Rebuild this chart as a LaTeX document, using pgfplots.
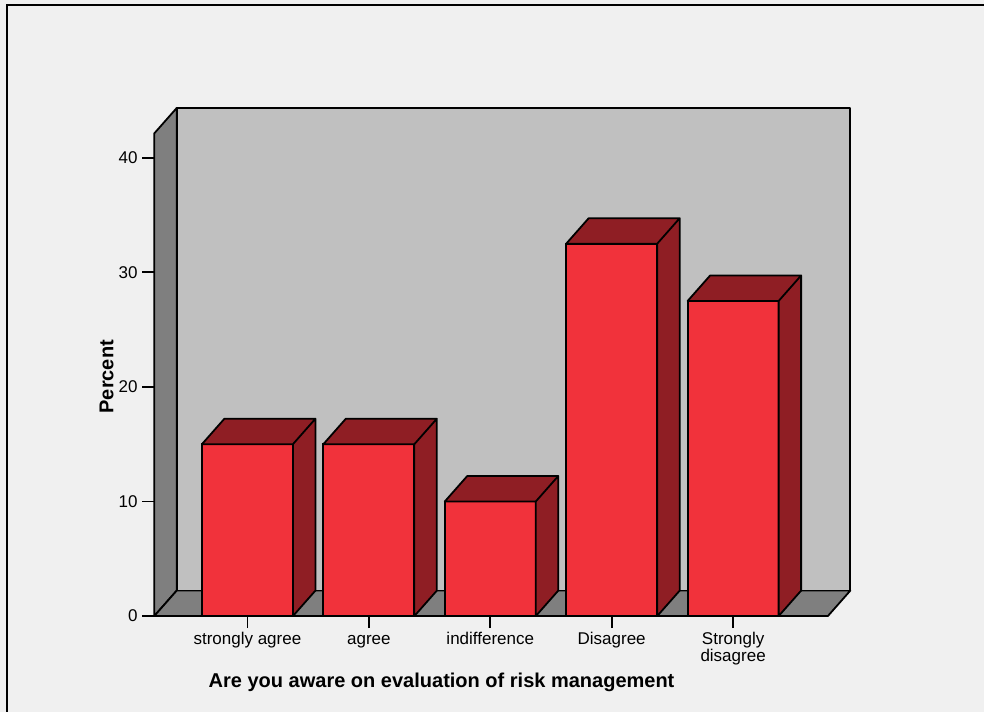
\documentclass[border=0pt]{standalone}
\usepackage{pgfplots}
\pgfplotsset{compat=1.18}
\usepackage{pgfplotstable}
\usepackage{fontspec}
\setmainfont{Liberation Sans}

\definecolor{pagebg}{HTML}{F0F0F0}
\definecolor{backwall}{HTML}{C0C0C0}
\definecolor{sidewall}{HTML}{7F7F7F}
\definecolor{barfront}{HTML}{F1323B}
\definecolor{barshade}{HTML}{8F1E24}

% share of answers (percent)
\pgfplotstableread{
idx pct
0 15
1 15
2 10
3 32.5
4 27.5
}\awaredata

% geometry (pt)
\def\xlo{-0.7675}
\def\xhi{4.78}
\def\yhi{42.12}
\def\yunit{8.5935}
\def\halfbar{34.125}
\def\depx{16.875}
\def\depy{19.125}
\def\edgew{1.35pt}

% top and right-hand faces of a 3-D bar, hung from the bar's top point
\pgfdeclareplotmark{prismcap}{%
  \pgfmathsetmacro\prismh{\barval*\yunit}%
  \pgfpathmoveto{\pgfpoint{-\halfbar pt}{0pt}}%
  \pgfpathlineto{\pgfpoint{\halfbar pt}{0pt}}%
  \pgfpathlineto{\pgfpoint{\halfbar pt+\depx pt}{\depy pt}}%
  \pgfpathlineto{\pgfpoint{-\halfbar pt+\depx pt}{\depy pt}}%
  \pgfpathclose
  \pgfpathmoveto{\pgfpoint{\halfbar pt}{0pt}}%
  \pgfpathlineto{\pgfpoint{\halfbar pt+\depx pt}{\depy pt}}%
  \pgfpathlineto{\pgfpoint{\halfbar pt+\depx pt}{\depy pt-\prismh pt}}%
  \pgfpathlineto{\pgfpoint{\halfbar pt}{-\prismh pt}}%
  \pgfpathclose
  \pgfusepathqfillstroke
}

\begin{document}
\begin{tikzpicture}[x=0.75pt,y=0.75pt]
\fill[pagebg] (0,0) rectangle (984,712);
\useasboundingbox (0,0) rectangle (984,712);
\draw[line width=1.5pt] (7,0) -- (7,707) -- (984,707);
\begin{axis}[
  at={(127,83.7)}, anchor=south west,
  x=91.07pt, y=8.5935pt,
  xmin=\xlo, xmax=\xhi, ymin=0, ymax=\yhi,
  clip=false,
  axis line style={draw=none},
  tick pos=left, tick align=outside,
  major tick length=9pt,
  tick style={black, line width=\edgew},
  xtick={0,...,4},
  xticklabels={strongly agree, agree, indifference, Disagree,
    {\begin{tabular}[t]{@{}c@{}}Strongly\\disagree\end{tabular}}},
  ytick={0,10,20,30,40},
  ticklabel style={font=\fontsize{12.75}{11.6}\selectfont},
  xticklabel style={anchor=base, yshift=-12pt},
  /pgf/number format/assume math mode=true,
  xlabel={Are you aware on evaluation of risk management},
  ylabel={Percent},
  label style={font=\bfseries\fontsize{15}{18}\selectfont},
  xlabel style={at={(axis description cs:0.4266,0)}, anchor=base, yshift=-53.8pt},
  ylabel style={at={(axis description cs:-0.0608,0.496)}, anchor=base},
]
% left wall, floor and back wall
\filldraw[fill=sidewall, line width=\edgew, line join=round]
  (axis cs:\xlo,0) -- (axis cs:\xlo,\yhi)
  -- ([shift={(\depx pt,\depy pt)}]axis cs:\xlo,\yhi)
  -- ([shift={(\depx pt,\depy pt)}]axis cs:\xlo,0) -- cycle;
\filldraw[fill=sidewall, line width=\edgew, line join=round]
  (axis cs:\xlo,0) -- (axis cs:\xhi,0)
  -- ([shift={(\depx pt,\depy pt)}]axis cs:\xhi,0)
  -- ([shift={(\depx pt,\depy pt)}]axis cs:\xlo,0) -- cycle;
\filldraw[fill=backwall, line width=\edgew, line join=round]
  ([shift={(\depx pt,\depy pt)}]axis cs:\xlo,0)
  rectangle ([shift={(\depx pt,\depy pt)}]axis cs:\xhi,\yhi);
% front faces
\addplot[ybar, bar width=68.25pt, fill=barfront, draw=black, line width=\edgew]
  table[x=idx, y=pct] {\awaredata};
% tops and sides
\addplot[only marks, mark=prismcap,
  mark options={fill=barshade, draw=black, line width=\edgew, line join=round},
  visualization depends on={y \as \barval}]
  table[x=idx, y=pct] {\awaredata};
\end{axis}
\end{tikzpicture}
\end{document}
